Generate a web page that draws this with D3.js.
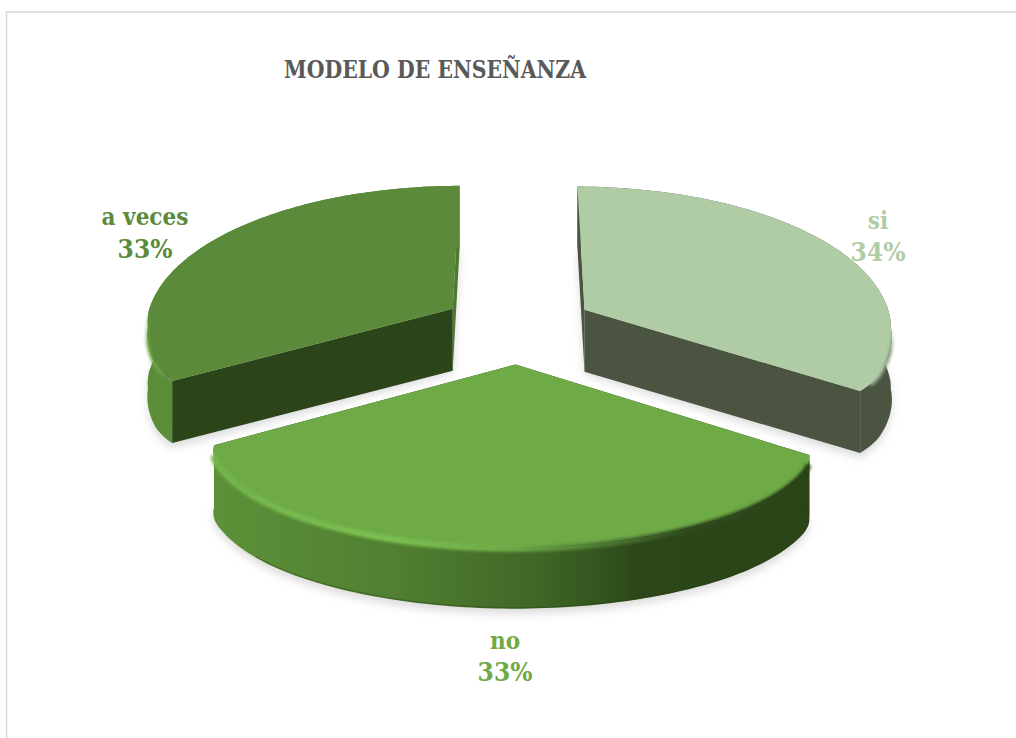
<!DOCTYPE html>
<html>
<head>
<meta charset="utf-8">
<title>Modelo de enseñanza</title>
<style>
  html, body { margin: 0; padding: 0; background: #fff; overflow: hidden; }
  text { font-family: "DejaVu Serif Condensed", "Liberation Serif", serif; font-weight: bold; }
</style>
</head>
<body>
<script src="https://d3js.org/d3.v7.min.js"></script>
<script>
var categories = ["si", "no", "a veces"];
var values = [34, 33, 33];
var chartTitle = "MODELO DE ENSEÑANZA";

var topColors = ["#b0cca5", "#6eaa46", "#5a8a3a"];
var wallColors = ["#4a5441", "url(#noWall)", "#5b8d39"];
var nearCutColors = ["#4a5441", "#2a4418", "#2b4419"];
var farCutColors = ["#4a5441", "#2a4418", "#4c7a30"];
var rimWidths = [3, 6, 3];

var width = 1016, height = 738;
var cx = 518, cy = 327, rx = 308, ry = 145;
var kxNear = 0.22, kxFar = 0.12, ky = 0.14;   // perspective
var explode = 0.25, thick = 62;
var trim = 0.045, trimSpan = 0.5;
var round = 0.02, roundSpan = 0.25;

var svg = d3.select("body").append("svg")
    .attr("width", width).attr("height", height);

var defs = svg.append("defs");
defs.append("filter").attr("id", "blurShadow")
    .attr("x", "-10%").attr("y", "-10%").attr("width", "120%").attr("height", "120%")
    .append("feGaussianBlur").attr("stdDeviation", 4);
defs.append("filter").attr("id", "blurBevel")
    .attr("x", "-10%").attr("y", "-10%").attr("width", "120%").attr("height", "120%")
    .append("feGaussianBlur").attr("stdDeviation", 1.6);

function gradient(id, x1, x2, y1, y2, stops) {
    var g = defs.append("linearGradient").attr("id", id)
        .attr("gradientUnits", "userSpaceOnUse")
        .attr("x1", x1).attr("x2", x2).attr("y1", y1).attr("y2", y2);
    stops.forEach(function (s) {
        g.append("stop").attr("offset", s[0]).attr("stop-color", s[1]).attr("stop-opacity", s[2] === undefined ? 1 : s[2]);
    });
}
gradient("noWall", 216, 806, 0, 0, [[0, "#5c9138"], [0.3, "#527f32"], [0.55, "#3f6626"], [0.72, "#2c4719"], [1, "#2a4418"]]);
gradient("noBevel", 216, 806, 0, 0, [[0, "#74b64b"], [0.3, "#7cc251"], [0.5, "#6fae47"], [0.68, "#4a7430"], [0.8, "#2f4a1c"], [1, "#2a4418"]]);
gradient("siBevel", 0, 0, 330, 392, [[0, "#7f8f78", 0], [0.4, "#7f8f78", 1], [1, "#c4d6bb", 1]]);
gradient("vecesBevel", 0, 0, 310, 380, [[0, "#69a542", 0], [0.5, "#69a542", 1], [1, "#69a542", 1]]);
var bevelColors = ["url(#siBevel)", "url(#noBevel)", "url(#vecesBevel)"];

svg.append("rect").attr("x", 6.5).attr("y", 12).attr("width", 1200).attr("height", 1000)
    .attr("fill", "#fff").attr("stroke", "#d9d9d9").attr("stroke-width", 1.5);

svg.append("text").attr("x", 284).attr("y", 78)
    .attr("fill", "#595959").attr("font-size", 25)
    .attr("textLength", 302).attr("lengthAdjust", "spacingAndGlyphs")
    .text(chartTitle);

var pie = d3.pie().sort(null).startAngle(0).endAngle(2 * Math.PI);
var slices = pie(values);
var line = d3.line();

function project(gx, gy, dy) {
    var kx = gy < 0 ? kxFar : kxNear;
    return [cx + gx * rx / (1 - kx * gy), cy + gy * ry / (1 - ky * gy) + dy];
}

// point of a slice: angle a, fraction r of the radius, dropped by dy
// squeeze narrows it sideways, used next to the cut corners
function point(s, a, r, dy, squeeze) {
    var mid = (s.startAngle + s.endAngle) / 2;
    return project(r * Math.sin(a) * (squeeze === undefined ? 1 : squeeze) + explode * Math.sin(mid),
        -r * Math.cos(a) - explode * Math.cos(mid), dy);
}

function arcPoints(s, dy) {
    return d3.range(0, 121).map(function (i) {
        var a = s.startAngle + (s.endAngle - s.startAngle) * i / 120;
        var t = Math.min(a - s.startAngle, s.endAngle - a) / trimSpan;
        var q = t < 1 ? 1 - trim * Math.pow(1 - t, 1.5) : 1;
        if (t < roundSpan) q *= 1 - round * Math.pow(1 - t / roundSpan, 2);   // rounded corner
        return point(s, a, 1, dy, q);
    });
}

var groups = svg.selectAll("g.slice").data(slices).enter().append("g").attr("class", "slice");

// soft shadow under every slice
groups.append("path")
    .attr("d", function (d) {
        var pts = arcPoints(d, thick + 5);
        pts.unshift(point(d, 0, 0, thick + 3));
        return line(pts) + "Z";
    })
    .attr("fill", "#c4c4c4").attr("opacity", 0.6)
    .attr("filter", "url(#blurShadow)");

// cut faces
groups.each(function (d, i) {
    var g = d3.select(this);
    var far = Math.abs(Math.sin(d.startAngle)) < 0.01 ? d.startAngle : d.endAngle;
    [d.startAngle, d.endAngle].forEach(function (a) {
        var q = (1 - trim) * (1 - round);
        g.append("path")
            .attr("d", line([point(d, 0, 0, 0), point(d, a, 1, 0, q), point(d, a, 1, thick, q), point(d, 0, 0, thick)]) + "Z")
            .attr("fill", a === far ? farCutColors[i] : nearCutColors[i]);
    });
});

// outer wall
groups.append("path")
    .attr("d", function (d) {
        return line(arcPoints(d, 0).concat(arcPoints(d, thick).reverse())) + "Z";
    })
    .attr("fill", function (d, i) { return wallColors[i]; });

// top face
groups.append("path")
    .attr("d", function (d) {
        var pts = arcPoints(d, 0);
        pts.unshift(point(d, 0, 0, 0));
        return line(pts) + "Z";
    })
    .attr("fill", function (d, i) { return topColors[i]; });

// soft highlight on the rim, stops short of the corners
groups.append("path")
    .attr("d", function (d, i) { return line(arcPoints(d, i === 1 ? 2 : 1).slice(3, -3)); })
    .attr("fill", "none")
    .attr("stroke", function (d, i) { return bevelColors[i]; })
    .attr("stroke-width", function (d, i) { return rimWidths[i]; })
    .attr("filter", "url(#blurBevel)");

// thin dark edge along the foot of the front slice
svg.append("path")
    .attr("d", line(arcPoints(slices[1], thick - 1).slice(20, -20)))
    .attr("fill", "none").attr("stroke", "#2a4418").attr("stroke-width", 1.2)
    .attr("opacity", 0.4);

// labels
var labelPos = [[878, 229, 261], [505, 649, 681], [145, 225, 258]];
categories.forEach(function (c, i) {
    var total = d3.sum(values);
    svg.append("text").attr("x", labelPos[i][0]).attr("y", labelPos[i][1])
        .attr("text-anchor", "middle").attr("fill", topColors[i]).attr("font-size", 24)
        .text(c);
    svg.append("text").attr("x", labelPos[i][0]).attr("y", labelPos[i][2])
        .attr("text-anchor", "middle").attr("fill", topColors[i]).attr("font-size", 26)
        .text(Math.round(values[i] / total * 100) + "%");
});
</script>
</body>
</html>
